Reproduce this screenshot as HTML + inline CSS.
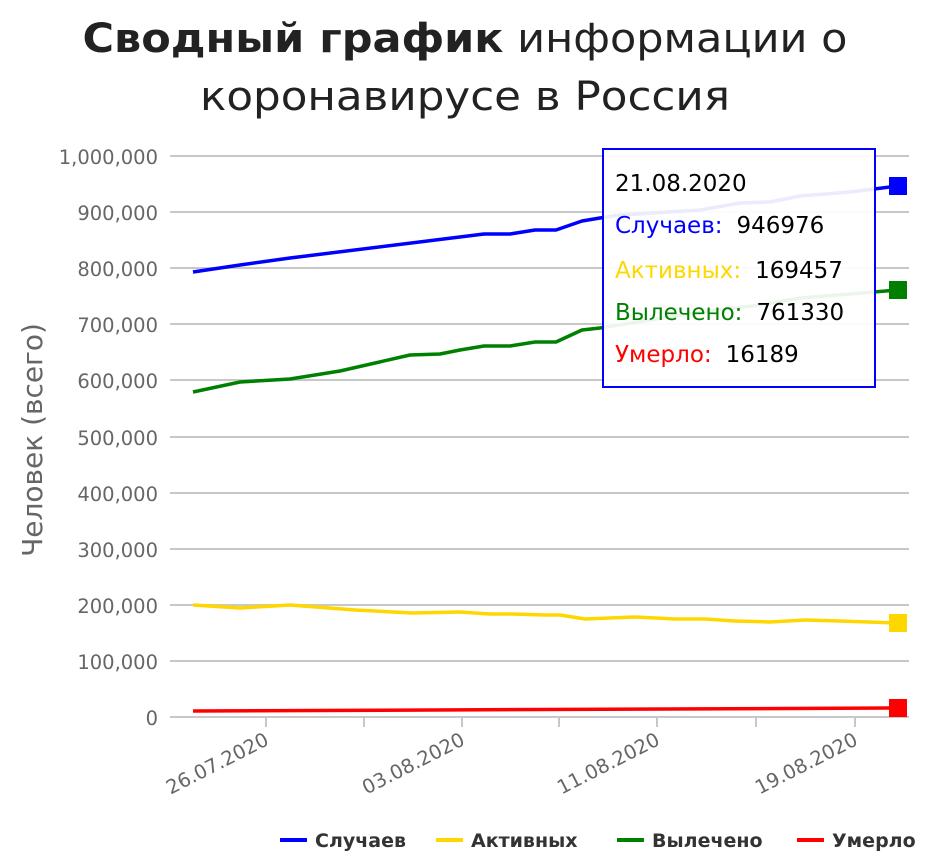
<!DOCTYPE html>
<html><head><meta charset="utf-8"><style>body{margin:0;background:#fff}svg{display:block}</style></head><body>
<svg width="931" height="859" xmlns="http://www.w3.org/2000/svg" font-family="DejaVu Sans, Liberation Sans, sans-serif">
<text x="465" y="52" text-anchor="middle" font-size="40" fill="#222" textLength="765" lengthAdjust="spacingAndGlyphs"><tspan font-weight="bold">Сводный график</tspan> информации о</text>
<text x="465" y="110" text-anchor="middle" font-size="40" fill="#222" textLength="530" lengthAdjust="spacingAndGlyphs">коронавирусе в Россия</text>
<g stroke="#c8c8c8" stroke-width="2">
<line x1="170" x2="909" y1="156" y2="156"/><line x1="170" x2="909" y1="212" y2="212"/><line x1="170" x2="909" y1="268" y2="268"/><line x1="170" x2="909" y1="324" y2="324"/><line x1="170" x2="909" y1="380" y2="380"/><line x1="170" x2="909" y1="437" y2="437"/><line x1="170" x2="909" y1="493" y2="493"/><line x1="170" x2="909" y1="549" y2="549"/><line x1="170" x2="909" y1="605" y2="605"/><line x1="170" x2="909" y1="661" y2="661"/><line x1="170" x2="909" y1="717" y2="717"/>
<line x1="266" x2="266" y1="717" y2="727"/><line x1="364" x2="364" y1="717" y2="727"/><line x1="462" x2="462" y1="717" y2="727"/><line x1="559" x2="559" y1="717" y2="727"/><line x1="657" x2="657" y1="717" y2="727"/><line x1="756" x2="756" y1="717" y2="727"/><line x1="855" x2="855" y1="717" y2="727"/>
</g>
<g font-size="19.5" fill="#666" text-anchor="end">
<text x="158" y="164">1,000,000</text><text x="158" y="220">900,000</text><text x="158" y="276">800,000</text><text x="158" y="332">700,000</text><text x="158" y="388">600,000</text><text x="158" y="445">500,000</text><text x="158" y="501">400,000</text><text x="158" y="557">300,000</text><text x="158" y="613">200,000</text><text x="158" y="669">100,000</text><text x="158" y="725">0</text>
</g>
<g font-size="19.5" fill="#666" text-anchor="end">
<text transform="translate(270,744) rotate(-27)">26.07.2020</text>
<text transform="translate(466,744) rotate(-27)">03.08.2020</text>
<text transform="translate(661,744) rotate(-27)">11.08.2020</text>
<text transform="translate(859,744) rotate(-27)">19.08.2020</text>
</g>
<text transform="translate(42,440) rotate(-90)" text-anchor="middle" font-size="28" fill="#666">Человек (всего)</text>
<g fill="none" stroke-width="3.5" stroke-linejoin="round">
<polyline stroke="#0000ff" points="193,272 240,265 290,258 484,234 510,234 535,230 556,230 582,221 600,218 620,215 700,210 740,203 770,202 800,196 850,192 898,186"/>
<polyline stroke="#008000" points="193,392 240,382 290,379 340,371 410,355 440,354 460,350 484,346 510,346 535,342 556,342 582,330 600,328 650,320 700,312 760,305 800,298 850,294 898,290"/>
<polyline stroke="#ffd700" points="193,605 240,608 290,605 355,610 412,613 460,612 490,614 512,614 545,615 560,615 585,619 635,617 675,619 705,619 735,621 770,622 805,620 840,621 898,623"/>
<polyline stroke="#ff0000" points="193,711 898,708"/>
</g>
<rect x="889" y="177" width="18" height="18" fill="#0000ff"/>
<rect x="889" y="281" width="18" height="18" fill="#008000"/>
<rect x="889" y="614" width="18" height="18" fill="#ffd700"/>
<rect x="889" y="699" width="18" height="18" fill="#ff0000"/>
<rect x="603" y="149" width="272" height="238" fill="#fff" fill-opacity="0.92" stroke="#0000ff" stroke-width="2"/>
<g font-size="23">
<text x="615" y="191" fill="#000">21.08.2020</text>
<text x="615" y="233"><tspan fill="#0000ff">Случаев:</tspan><tspan fill="#000" dx="14">946976</tspan></text>
<text x="615" y="278"><tspan fill="#ffd700">Активных:</tspan><tspan fill="#000" dx="14">169457</tspan></text>
<text x="615" y="320"><tspan fill="#008000">Вылечено:</tspan><tspan fill="#000" dx="14">761330</tspan></text>
<text x="615" y="362"><tspan fill="#ff0000">Умерло:</tspan><tspan fill="#000" dx="14">16189</tspan></text>
</g>
<g stroke-width="4">
<line x1="280" x2="307" y1="840" y2="840" stroke="#0000ff"/>
<line x1="436" x2="463" y1="840" y2="840" stroke="#ffd700"/>
<line x1="617" x2="644" y1="840" y2="840" stroke="#008000"/>
<line x1="797" x2="824" y1="840" y2="840" stroke="#ff0000"/>
</g>
<g font-size="19" fill="#333" font-weight="bold">
<text x="315" y="847">Случаев</text>
<text x="471" y="847">Активных</text>
<text x="652" y="847">Вылечено</text>
<text x="832" y="847">Умерло</text>
</g>
</svg>
</body></html>
